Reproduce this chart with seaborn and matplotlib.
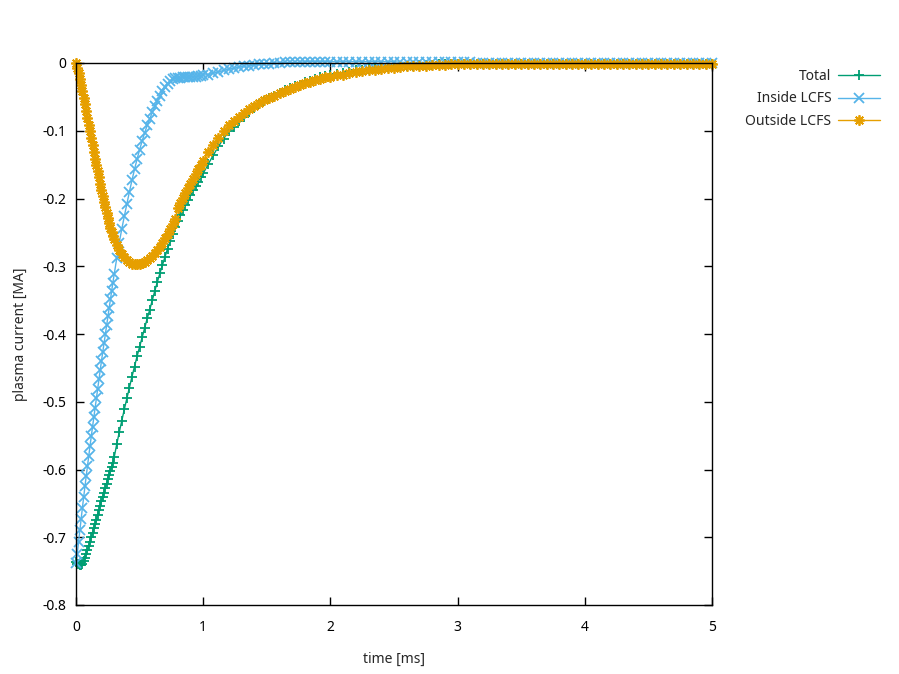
import matplotlib
matplotlib.use("Agg")
import matplotlib.pyplot as plt
import seaborn as sns
from matplotlib.ticker import FuncFormatter

# time axis [ms]: dense at the start, coarser in the tail
time_ms = [
    0.00, 0.01, 0.02, 0.03, 0.04, 0.05, 0.06, 0.07, 0.08, 0.09,
    0.10, 0.11, 0.12, 0.13, 0.14, 0.15, 0.16, 0.17, 0.18, 0.19,
    0.20, 0.21, 0.22, 0.23, 0.24, 0.25, 0.26, 0.27, 0.28, 0.29, 0.30,
    0.32, 0.34, 0.36, 0.38, 0.40, 0.42, 0.44, 0.46, 0.48, 0.50,
    0.52, 0.54, 0.56, 0.58, 0.60, 0.62, 0.64, 0.66, 0.68, 0.70,
    0.72, 0.74, 0.76, 0.78, 0.80, 0.82, 0.84, 0.86, 0.88, 0.90,
    0.92, 0.94, 0.96, 0.98, 1.00,
    1.04, 1.08, 1.12, 1.16, 1.20, 1.24, 1.28, 1.32, 1.36, 1.40,
    1.44, 1.48, 1.52, 1.56, 1.60, 1.64, 1.68, 1.72, 1.76, 1.80,
    1.84, 1.88, 1.92, 1.96, 2.00,
    2.05, 2.10, 2.15, 2.20, 2.25, 2.30, 2.35, 2.40, 2.45, 2.50,
    2.55, 2.60, 2.65, 2.70, 2.75, 2.80, 2.85, 2.90, 2.95, 3.00,
    3.05, 3.10, 3.15, 3.20, 3.25, 3.30, 3.35, 3.40, 3.45, 3.50,
    3.55, 3.60, 3.65, 3.70, 3.75, 3.80, 3.85, 3.90, 3.95, 4.00,
    4.05, 4.10, 4.15, 4.20, 4.25, 4.30, 4.35, 4.40, 4.45, 4.50,
    4.55, 4.60, 4.65, 4.70, 4.75, 4.80, 4.85, 4.90, 4.95, 5.00,
]

# plasma current [MA]
total_ma = [
    -0.737, -0.739, -0.740, -0.741, -0.741, -0.739, -0.735, -0.730, -0.725, -0.719,
    -0.713, -0.707, -0.700, -0.694, -0.687, -0.680, -0.674, -0.667, -0.660, -0.654,
    -0.647, -0.641, -0.634, -0.627, -0.621, -0.614, -0.608, -0.602, -0.596, -0.590, -0.582,
    -0.563, -0.545, -0.528, -0.511, -0.495, -0.479, -0.463, -0.448, -0.433, -0.419,
    -0.405, -0.391, -0.377, -0.364, -0.350, -0.336, -0.323, -0.310, -0.298, -0.286,
    -0.274, -0.263, -0.252, -0.242, -0.233, -0.225, -0.217, -0.209, -0.202, -0.195,
    -0.188, -0.181, -0.175, -0.169, -0.163,
    -0.149, -0.136, -0.123, -0.112, -0.101, -0.094, -0.086, -0.079, -0.072, -0.067,
    -0.061, -0.056, -0.052, -0.048, -0.044, -0.040, -0.037, -0.034, -0.032, -0.028,
    -0.026, -0.023, -0.021, -0.019, -0.018,
    -0.016, -0.015, -0.013, -0.011, -0.010, -0.009, -0.008, -0.007, -0.006, -0.005,
    -0.005, -0.004, -0.004, -0.003, -0.003, -0.003, -0.002, -0.002, -0.002, -0.002,
    -0.002, -0.001, -0.001, -0.001, -0.001, -0.001, -0.001, -0.001, -0.001, -0.001,
    -0.001, -0.001, -0.001, -0.001, -0.001, -0.001, -0.001, -0.001, -0.001, -0.001,
    -0.001, -0.001, -0.001, -0.001, -0.001, -0.001, -0.001, -0.001, -0.001, -0.001,
    -0.001, -0.001, -0.001, -0.001, -0.001, -0.001, -0.001, -0.001, -0.001, -0.001,
]

inside_ma = [
    -0.738, -0.724, -0.707, -0.690, -0.673, -0.657, -0.641, -0.625, -0.610, -0.595,
    -0.580, -0.566, -0.551, -0.537, -0.523, -0.509, -0.495, -0.481, -0.467, -0.453,
    -0.440, -0.427, -0.413, -0.400, -0.387, -0.374, -0.361, -0.349, -0.336, -0.324, -0.312,
    -0.288, -0.265, -0.245, -0.226, -0.208, -0.190, -0.173, -0.157, -0.142, -0.128,
    -0.115, -0.103, -0.092, -0.082, -0.073, -0.064, -0.056, -0.049, -0.042, -0.036,
    -0.031, -0.027, -0.024, -0.022, -0.022, -0.022, -0.021, -0.021, -0.021, -0.020,
    -0.020, -0.020, -0.019, -0.019, -0.018,
    -0.017, -0.015, -0.013, -0.011, -0.009, -0.008, -0.006, -0.005, -0.004, -0.003,
    -0.002, -0.001, -0.001, 0.000, 0.000, 0.001, 0.001, 0.001, 0.001, 0.002,
    0.002, 0.002, 0.002, 0.002, 0.002,
    0.002, 0.002, 0.002, 0.002, 0.002, 0.002, 0.002, 0.002, 0.002, 0.002,
    0.001, 0.001, 0.001, 0.001, 0.001, 0.001, 0.001, 0.001, 0.001, 0.001,
    0.001, 0.001, 0.000, 0.000, 0.000, 0.000, 0.000, 0.000, 0.000, 0.000,
    0.000, 0.000, 0.000, 0.000, 0.000, 0.000, 0.000, 0.000, 0.000, 0.000,
    0.000, 0.000, 0.000, 0.000, 0.000, 0.000, 0.000, 0.000, 0.000, 0.000,
    0.000, 0.000, 0.000, 0.000, 0.000, 0.000, 0.000, 0.000, 0.000, 0.000,
]

outside_ma = [
    0.000, -0.007, -0.015, -0.024, -0.033, -0.042, -0.052, -0.061, -0.071, -0.081,
    -0.091, -0.101, -0.111, -0.121, -0.131, -0.141, -0.150, -0.160, -0.169, -0.178,
    -0.187, -0.196, -0.205, -0.213, -0.221, -0.229, -0.236, -0.243, -0.249, -0.255, -0.260,
    -0.268, -0.276, -0.282, -0.287, -0.291, -0.294, -0.296, -0.297, -0.297, -0.296,
    -0.295, -0.293, -0.291, -0.288, -0.285, -0.280, -0.276, -0.271, -0.266, -0.259,
    -0.252, -0.245, -0.238, -0.230, -0.214, -0.206, -0.199, -0.192, -0.185, -0.178,
    -0.171, -0.164, -0.157, -0.151, -0.145,
    -0.132, -0.121, -0.110, -0.101, -0.092, -0.086, -0.080, -0.074, -0.068, -0.064,
    -0.059, -0.055, -0.051, -0.048, -0.044, -0.041, -0.038, -0.035, -0.033, -0.030,
    -0.028, -0.025, -0.023, -0.021, -0.020,
    -0.018, -0.017, -0.015, -0.013, -0.012, -0.011, -0.010, -0.009, -0.008, -0.007,
    -0.006, -0.005, -0.005, -0.004, -0.004, -0.003, -0.003, -0.003, -0.002, -0.002,
    -0.002, -0.002, -0.002, -0.002, -0.002, -0.002, -0.002, -0.002, -0.002, -0.002,
    -0.001, -0.001, -0.001, -0.001, -0.001, -0.001, -0.001, -0.001, -0.001, -0.001,
    -0.001, -0.001, -0.001, -0.001, -0.001, -0.001, -0.001, -0.001, -0.001, -0.001,
    -0.001, -0.001, -0.001, -0.001, -0.001, -0.001, -0.001, -0.001, -0.001, -0.001,
]

series = [
    ("Total", total_ma, "#009e73", "+"),
    ("Inside LCFS", inside_ma, "#56b4e9", "x"),
    ("Outside LCFS", outside_ma, "#e69f00", (8, 2, 0)),
]

sns.set_theme(style="ticks")
plt.rcParams["font.family"] = ["Noto Sans", "DejaVu Sans"]
plt.rcParams["axes.unicode_minus"] = False

fig = plt.figure(figsize=(8.99, 6.74), dpi=100)
ax = fig.add_axes([76 / 899, 1 - 605 / 674, 636 / 899, 542 / 674])

handles = []
for name, vals, color, marker in series:
    sns.lineplot(x=time_ms, y=vals, ax=ax, color=color, marker=marker,
                 markersize=7.5, markeredgewidth=1.3, markeredgecolor=color,
                 linewidth=1.0, label=name, clip_on=False, sort=False)
    handles.append(ax.get_lines()[-1])
ax.get_legend().remove()

ax.set_xlim(0, 5)
ax.set_ylim(-0.8, 0)
ax.set_xticks([0, 1, 2, 3, 4, 5])
ax.set_yticks([0, -0.1, -0.2, -0.3, -0.4, -0.5, -0.6, -0.7, -0.8])
ax.yaxis.set_major_formatter(FuncFormatter(lambda v, _: f"{v:g}"))
ax.tick_params(direction="in", length=6, width=1, top=True, right=True,
               labelsize=10, colors="black")
ax.tick_params(axis="x", pad=11)
ax.tick_params(axis="y", pad=7)
for sp in ax.spines.values():
    sp.set_color("black")
    sp.set_linewidth(1.0)
ax.set_xlabel("time [ms]", fontsize=10, labelpad=12)
ax.set_ylabel("plasma current [MA]", fontsize=10, labelpad=10)

# gnuplot-style key: right-aligned text, sample line on the right
for i, h in enumerate(handles):
    fig.legend(handles=[h], labels=[h.get_label()], loc="upper right",
               bbox_to_anchor=(880 / 899, 1 - (69 + 22.5 * i) / 674),
               markerfirst=False, frameon=False, fontsize=10,
               handlelength=3.0, handletextpad=0.5, borderpad=0.0,
               borderaxespad=0.0)

fig.savefig("out.png", dpi=100)
